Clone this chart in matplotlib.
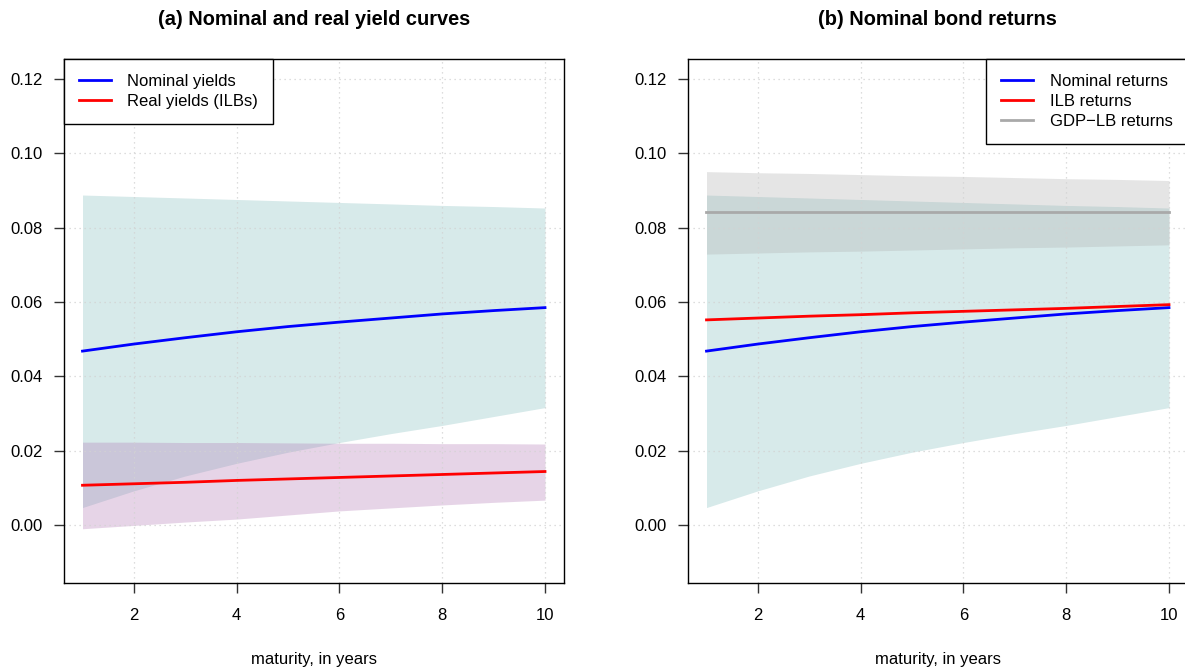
import matplotlib
matplotlib.use('Agg')
import matplotlib.pyplot as plt
from matplotlib.lines import Line2D

plt.rcParams['font.family'] = ['Liberation Sans', 'DejaVu Sans']
plt.rcParams['font.size'] = 12

# maturities (years)
maturity = [1, 2, 3, 4, 5, 6, 7, 8, 9, 10]

# nominal yields and its band
nominal = [0.0468, 0.0487, 0.0504, 0.0520, 0.0534, 0.0546, 0.0557, 0.0568, 0.0577, 0.0585]
nominal_hi = [0.0888, 0.0884, 0.0880, 0.0876, 0.0872, 0.0868, 0.0864, 0.0860, 0.0857, 0.0853]
nominal_lo = [0.0047, 0.0092, 0.0132, 0.0166, 0.0196, 0.0222, 0.0246, 0.0268, 0.0292, 0.0316]

# real yields (ILBs) and band
real = [0.0107, 0.0111, 0.0115, 0.0120, 0.0124, 0.0128, 0.0132, 0.0136, 0.0140, 0.0144]
real_hi = [0.0223, 0.0223, 0.0222, 0.0222, 0.0221, 0.0220, 0.0220, 0.0219, 0.0219, 0.0218]
real_lo = [-0.0010, -0.0001, 0.0008, 0.0016, 0.0027, 0.0038, 0.0046, 0.0054, 0.0061, 0.0067]

# returns panel
ilb_ret = [0.0552, 0.0557, 0.0562, 0.0566, 0.0571, 0.0575, 0.0579, 0.0583, 0.0588, 0.0593]
gdp_ret = [0.0841, 0.0841, 0.0841, 0.0841, 0.0841, 0.0841, 0.0841, 0.0841, 0.0841, 0.0841]
gdp_hi = [0.0951, 0.0948, 0.0946, 0.0943, 0.0940, 0.0938, 0.0935, 0.0932, 0.0930, 0.0927]
gdp_lo = [0.0729, 0.0732, 0.0735, 0.0737, 0.0740, 0.0743, 0.0746, 0.0748, 0.0751, 0.0754]

xticks = [2, 4, 6, 8, 10]
yticks = [0.00, 0.02, 0.04, 0.06, 0.08, 0.10, 0.12]

TEAL = '#70b4b4'
PURPLE = '#af73b2'
GREY_BAND = '#acacac'
GREY_LINE = '#a9a9a9'

W, H = 1185, 670
fig = plt.figure(figsize=(W / 100, H / 100), dpi=100)
ax1 = fig.add_axes([64 / W, 87 / H, 499.5 / W, 524 / H])
ax2 = fig.add_axes([688 / W, 87 / H, 499.5 / W, 524 / H])


def style_axes(ax, title):
    ax.set_xlim(0.64, 10.36)
    ax.set_ylim(-0.0156, 0.1254)
    ax.set_xticks(xticks)
    ax.set_yticks(yticks)
    ax.set_yticklabels([f'{v:.2f}' for v in yticks])
    ax.tick_params(direction='out', length=7.2, width=1, color='#333333',
                   labelsize=12, top=False, right=False)
    ax.tick_params(axis='x', pad=11)
    ax.tick_params(axis='y', pad=8)
    for x in xticks:
        ax.axvline(x, color='#d3d3d3', lw=0.9, ls=(0, (1, 3)), zorder=2)
    for y in yticks:
        ax.axhline(y, color='#d3d3d3', lw=0.9, ls=(0, (1, 3)), zorder=2)
    for s in ax.spines.values():
        s.set_linewidth(1.0)
        s.set_color('black')
    ax.set_xlabel('maturity, in years', fontsize=12, labelpad=21)
    ax.set_title(title, fontsize=14.4, fontweight='bold', pad=24.5)


# (a) yields
ax1.fill_between(maturity, nominal_lo, nominal_hi, color=TEAL, alpha=0.28, lw=0, zorder=1)
ax1.fill_between(maturity, real_lo, real_hi, color=PURPLE, alpha=0.3, lw=0, zorder=1)
ax1.plot(maturity, nominal, color='blue', lw=2, zorder=3)
ax1.plot(maturity, real, color='red', lw=2, zorder=3)
style_axes(ax1, '(a) Nominal and real yield curves')
h1 = [Line2D([], [], color='blue', lw=2), Line2D([], [], color='red', lw=2)]
leg1 = ax1.legend(h1, ['Nominal yields', 'Real yields (ILBs)'], loc='upper left',
                  borderaxespad=0, fancybox=False, framealpha=1, edgecolor='black',
                  handlelength=1.9, handletextpad=1.0, labelspacing=0.3,
                  borderpad=0.9, fontsize=12)
leg1.get_frame().set_linewidth(1.0)

# (b) returns
ax2.fill_between(maturity, nominal_lo, nominal_hi, color=TEAL, alpha=0.28, lw=0, zorder=1)
ax2.fill_between(maturity, gdp_lo, gdp_hi, color=GREY_BAND, alpha=0.3, lw=0, zorder=1)
ax2.plot(maturity, nominal, color='blue', lw=2, zorder=3)
ax2.plot(maturity, ilb_ret, color='red', lw=2, zorder=3)
ax2.plot(maturity, gdp_ret, color=GREY_LINE, lw=2, zorder=3)
style_axes(ax2, '(b) Nominal bond returns')
h2 = [Line2D([], [], color='blue', lw=2), Line2D([], [], color='red', lw=2),
      Line2D([], [], color=GREY_LINE, lw=2)]
leg2 = ax2.legend(h2, ['Nominal returns', 'ILB returns', 'GDP\u2212LB returns'],
                  loc='upper right', borderaxespad=0, fancybox=False, framealpha=1,
                  edgecolor='black', handlelength=1.9, handletextpad=1.0,
                  labelspacing=0.3, borderpad=0.9, fontsize=12)
leg2.get_frame().set_linewidth(1.0)

fig.savefig('out.png', dpi=100)
